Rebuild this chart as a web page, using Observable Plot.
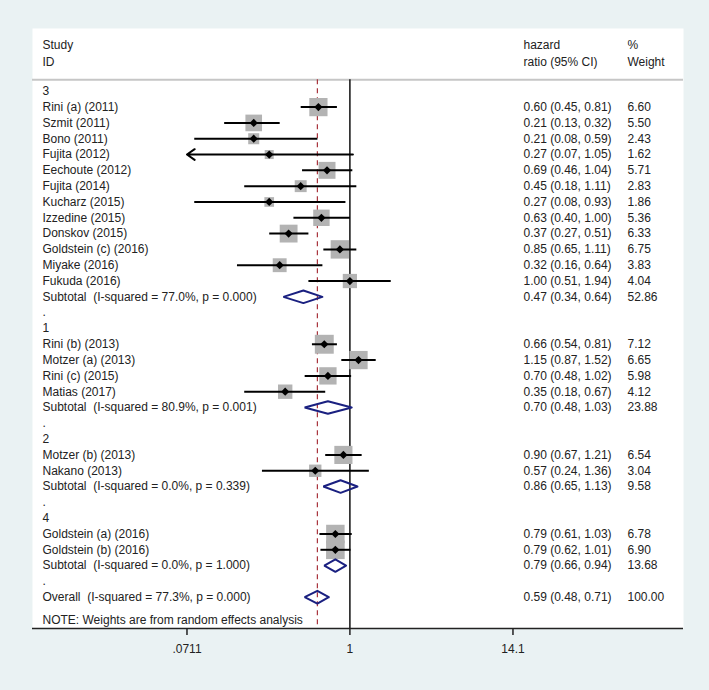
<!DOCTYPE html>
<html><head><meta charset="utf-8">
<script src="https://cdn.jsdelivr.net/npm/d3@7"></script>
<script src="https://cdn.jsdelivr.net/npm/@observablehq/plot@0.6"></script>
<style>
html,body{margin:0;padding:0;background:#eaf2f3;}
#chart svg text{white-space:pre;}
</style></head><body><div id="chart"></div>
<script>
// ---- data ----
const rowLabels = [
  "3",
  "Rini (a) (2011)", "Szmit (2011)", "Bono (2011)", "Fujita (2012)", "Eechoute (2012)",
  "Fujita (2014)", "Kucharz (2015)", "Izzedine (2015)", "Donskov (2015)",
  "Goldstein (c) (2016)", "Miyake (2016)", "Fukuda (2016)",
  "Subtotal  (I-squared = 77.0%, p = 0.000)",
  ".", "1",
  "Rini (b) (2013)", "Motzer (a) (2013)", "Rini (c) (2015)", "Matias (2017)",
  "Subtotal  (I-squared = 80.9%, p = 0.001)",
  ".", "2",
  "Motzer (b) (2013)", "Nakano (2013)",
  "Subtotal  (I-squared = 0.0%, p = 0.339)",
  ".", "4",
  "Goldstein (a) (2016)", "Goldstein (b) (2016)",
  "Subtotal  (I-squared = 0.0%, p = 1.000)",
  ".",
  "Overall  (I-squared = 77.3%, p = 0.000)"
];
const rowKinds = [
  "group",
  "study","study","study","study","study","study","study","study","study","study","study","study",
  "pooled",
  "blank","group",
  "study","study","study","study",
  "pooled",
  "blank","group",
  "study","study",
  "pooled",
  "blank","group",
  "study","study",
  "pooled",
  "blank",
  "pooled"
];
const hrEst = [null,
  0.60,0.21,0.21,0.27,0.69,0.45,0.27,0.63,0.37,0.85,0.32,1.00, 0.47,
  null,null, 0.66,1.15,0.70,0.35, 0.70,
  null,null, 0.90,0.57, 0.86,
  null,null, 0.79,0.79, 0.79,
  null, 0.59];
const hrLow = [null,
  0.45,0.13,0.08,0.07,0.46,0.18,0.08,0.40,0.27,0.65,0.16,0.51, 0.34,
  null,null, 0.54,0.87,0.48,0.18, 0.48,
  null,null, 0.67,0.24, 0.65,
  null,null, 0.61,0.62, 0.66,
  null, 0.48];
const hrHigh = [null,
  0.81,0.32,0.59,1.05,1.04,1.11,0.93,1.00,0.51,1.11,0.64,1.94, 0.64,
  null,null, 0.81,1.52,1.02,0.67, 1.03,
  null,null, 1.21,1.36, 1.13,
  null,null, 1.03,1.01, 0.94,
  null, 0.71];
const weights = [null,
  6.60,5.50,2.43,1.62,5.71,2.83,1.86,5.36,6.33,6.75,3.83,4.04, 52.86,
  null,null, 7.12,6.65,5.98,4.12, 23.88,
  null,null, 6.54,3.04, 9.58,
  null,null, 6.78,6.90, 13.68,
  null, 100.00];
const headerStudy = ["Study", "ID"];
const headerHR = ["hazard", "ratio (95% CI)"];
const headerWeight = ["%", "Weight"];
const tickValues = [0.0711, 1, 14.1];
const tickLabels = [".0711", "1", "14.1"];
const noteText = "NOTE: Weights are from random effects analysis";

// ---- layout (scale settings) ----
const xDomain = [0.005797, 224.4];
const yDomain = [-3.972, 33.978];
const sepRow = -0.727;
const headerRows = [-2.9, -1.84];
const noteRow = 33.47;
const tickLen = 0.45;
const clipMin = tickValues[0];

const rows = rowLabels.map((label, i) => ({
  row: i, label, kind: rowKinds[i], est: hrEst[i], lo: hrLow[i], hi: hrHigh[i], w: weights[i]
}));
const fmt = v => v.toFixed(2);
const dataRows = rows.filter(d => d.est != null);
dataRows.forEach(d => { d.ci = `${fmt(d.est)} (${fmt(d.lo)}, ${fmt(d.hi)})`; d.wt = fmt(d.w); });
const studies = rows.filter(d => d.kind === "study");
const pooled = rows.filter(d => d.kind === "pooled");
const overall = pooled[pooled.length - 1];
const clipped = studies.filter(d => d.lo < clipMin);
const unclipped = studies.filter(d => d.lo >= clipMin);
const dh = 0.4;
const diamondPts = pooled.flatMap(d => [
  {id: d.row, x: d.est, y: d.row - dh},
  {id: d.row, x: d.hi, y: d.row},
  {id: d.row, x: d.est, y: d.row + dh},
  {id: d.row, x: d.lo, y: d.row},
  {id: d.row, x: d.est, y: d.row - dh},
  {id: d.row, x: d.hi, y: d.row}
]);
const headers = headerRows.map((r, i) => ({row: r, a: headerStudy[i], b: headerHR[i], c: headerWeight[i]}));
const ticks = tickValues.map((v, i) => ({v, label: tickLabels[i]}));
const textFill = "#222";

const chart = Plot.plot({
  width: 709, height: 690,
  marginTop: 28, marginRight: 26, marginBottom: 62, marginLeft: 32,
  style: {background: "#eaf2f3", fontFamily: "'Liberation Sans', Arial, sans-serif", fontSize: "12px", color: "#222"},
  x: {type: "log", domain: xDomain, axis: null},
  y: {domain: yDomain, reverse: true, axis: null},
  r: {type: "sqrt", domain: [0, 100], range: [0, 40]},
  marks: [
    Plot.frame({fill: "white", stroke: "none"}),
    Plot.ruleY([sepRow], {stroke: "#c6c6c6", strokeWidth: 2}),
    Plot.ruleX([overall.est], {y1: sepRow, y2: yDomain[1], stroke: "#a8323c", strokeWidth: 1.2, strokeDasharray: "5,4"}),
    Plot.ruleX([1], {y1: sepRow, y2: yDomain[1], stroke: "#111", strokeWidth: 1.5}),
    Plot.dot(studies, {x: "est", y: "row", r: "w", symbol: "square", fill: "#b3b3b3", stroke: "none"}),
    Plot.link(unclipped, {x1: "lo", x2: "hi", y1: "row", y2: "row", stroke: "#000", strokeWidth: 2}),
    Plot.arrow(clipped, {x1: "hi", x2: () => clipMin, y1: "row", y2: "row", stroke: "#000", strokeWidth: 2, headLength: 7, headAngle: 70}),
    Plot.dot(studies, {x: "est", y: "row", symbol: "diamond2", r: 3.7, fill: "#000", stroke: "none"}),
    Plot.line(diamondPts, {x: "x", y: "y", z: "id", stroke: "#1a2080", strokeWidth: 2, strokeLinejoin: "miter"}),
    Plot.text(rows, {y: "row", text: "label", frameAnchor: "left", dx: 10, textAnchor: "start", fill: textFill}),
    Plot.text(dataRows, {y: "row", text: "ci", frameAnchor: "left", dx: 491, textAnchor: "start", fill: textFill}),
    Plot.text(dataRows, {y: "row", text: "wt", frameAnchor: "left", dx: 595, textAnchor: "start", fill: textFill}),
    Plot.text(headers, {y: "row", text: "a", frameAnchor: "left", dx: 10, textAnchor: "start", fill: textFill}),
    Plot.text(headers, {y: "row", text: "b", frameAnchor: "left", dx: 491, textAnchor: "start", fill: textFill}),
    Plot.text(headers, {y: "row", text: "c", frameAnchor: "left", dx: 595, textAnchor: "start", fill: textFill}),
    Plot.text([noteText], {y: () => noteRow, text: d => d, frameAnchor: "left", dx: 10, textAnchor: "start", fill: textFill}),
    Plot.ruleY([yDomain[1]], {stroke: "#222", strokeWidth: 1.5}),
    Plot.ruleX(ticks, {x: "v", y1: () => yDomain[1], y2: () => yDomain[1] + tickLen, stroke: "#222", strokeWidth: 1.5}),
    Plot.text(ticks, {x: "v", y: () => yDomain[1], dy: 21, text: "label", fill: textFill})
  ]
});
document.getElementById("chart").appendChild(chart);
</script></body></html>
